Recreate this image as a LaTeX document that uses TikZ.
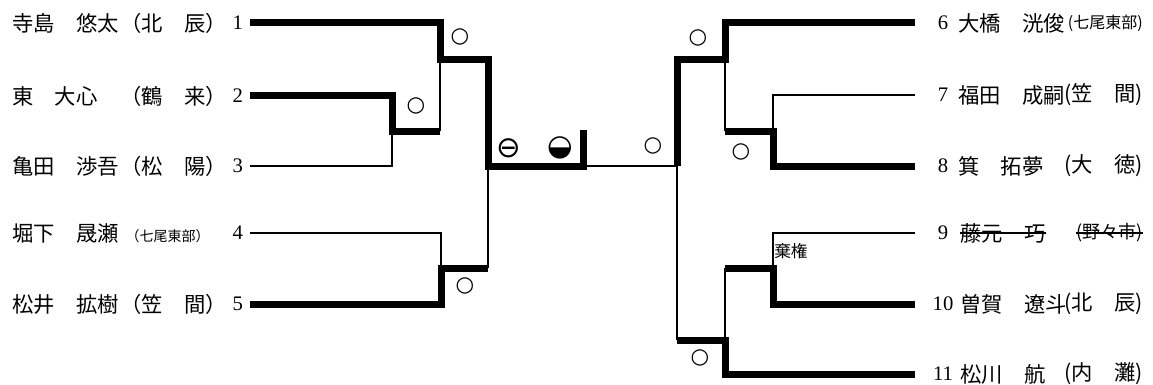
\documentclass[tikz,border=0pt]{standalone}
\usepackage{fontspec}
\usepackage{tikz}
\usetikzlibrary{positioning}
\newfontfamily\jp{Noto Sans CJK JP}
\newfontfamily\marksfont{DejaVu Sans}
\newfontfamily\digitfont{Liberation Serif}
\newcommand{\player}[2]{\makebox[81pt][l]{#1}#2}

\begin{document}
\begin{tikzpicture}[
  x=0.75pt,y=-0.75pt,
  font=\fontsize{16}{19}\jp,
  num/.style ={font=\fontsize{15.5}{18}\digitfont,inner xsep=5pt,inner ysep=0pt,anchor=east},
  rnum/.style={font=\fontsize{15.5}{18}\digitfont,inner sep=0pt,minimum width=42pt},
  pname/.style={inner sep=0pt,anchor=west},
  school/.style={inner sep=0pt,anchor=east},
  lost/.style={line width=2pt},
  won/.style ={line width=5.25pt},
  res/.style ={font=\fontsize{16}{18}\marksfont,inner sep=0pt},
  draw res/.style={font=\fontsize{22}{24}\marksfont,inner sep=0pt},
]
\useasboundingbox (0,0) rectangle (1153,385);
% ---- Left block ----
\node[num] (n1) at (250,23)  {1};
\node[num] (n2) at (250,96)  {2};
\node[num] (n3) at (250,166) {3};
\node[num] (n4) at (250,233) {4};
\node[num] (n5) at (250,304) {5};
\node[pname] (nm1) at (12,23)  {\player{寺島　悠太}{（北　辰）}};
\node[pname] (nm2) at (12,96)  {\player{東　大心}{（鶴　来）}};
\node[pname] (nm3) at (12,166) {\player{亀田　渉吾}{（松　陽）}};
\node[pname] (nm4) at (12,233) {\player{堀下　晟瀬}{\hspace{4pt}{\fontsize{10.5}{12}\selectfont（七尾東部）}}};
\node[pname] (nm5) at (12,304) {\player{松井　拡樹}{（笠　間）}};
% ---- Right block ----
\node[rnum] (n6)  at (943,23)  {6};
\node[rnum] (n7)  at (943,95)  {7};
\node[rnum] (n8)  at (943,166) {8};
\node[rnum] (n9)  at (943,233) {9};
\node[rnum] (n10) at (943,304) {10};
\node[rnum] (n11) at (943,374) {11};
\node[pname] (nm6)  at (958,23)  {大橋　洸俊};
\node[pname] (nm7)  at (958,95)  {福田　成嗣};
\node[pname] (nm8)  at (958,166) {箕　拓夢};
\node[pname] (nm9)  at (960,233) {藤元　巧};
\node[pname] (nm10) at (960,304) {曽賀　遼斗};
\node[pname] (nm11) at (960,374) {松川　航};
\node[school,font=\fontsize{12}{14}\jp]   (s6)  at (1143,23)  {(七尾東部)};
\node[school] (s7)  at (1143,95)  {(笠　間)};
\node[school] (s8)  at (1143,166) {(大　徳)};
\node[school,font=\fontsize{13.5}{16}\jp] (s9)  at (1143,233) {(野々市)};
\node[school] (s10) at (1143,304) {(北　辰)};
\node[school] (s11) at (1143,374) {(内　灘)};
\draw[line width=0.8pt] (nm9.west) -- (nm9.east);
\draw[line width=0.8pt] (s9.west) -- (s9.east);
% ---- Joints ----
\coordinate (q23) at (392,131);
\coordinate (q1)  at (440,60);
\coordinate (q45) at (441,268);
\coordinate (sl)  at (488,166);
\coordinate (fl)  at (583,166);
\coordinate (fw)  at (583,130);
\coordinate (fr)  at (677,166);
\coordinate (r1)  at (725,60);
\coordinate (r78) at (773,131);
\coordinate (r910) at (773,268);
\coordinate (r2)  at (725,340);
% ---- Left lines ----
\draw[won]  (n1.east) -| (q1) -| (sl) -- (fl) -- (fw);
\draw[won]  (n2.east) -| (q23) -- (q1|-q23);
\draw[lost] (q1|-q23) -- (q1);
\draw[lost] (n3.east) -| (q23);
\draw[lost] (n4.east) -| (q45);
\draw[won]  (n5.east) -| (q45) -- (sl|-q45);
\draw[lost] (sl|-q45) -- (sl);
\draw[lost] (fl) -- (fr);
% ---- Right lines ----
\draw[won]  (n6.west) -| (r1) -| (fr);
\draw[won]  (n8.west) -| (r78) -- (r1|-r78);
\draw[lost] (r1|-r78) -- (r1);
\draw[lost] (n7.west) -| (r78);
\draw[won]  (n10.west) -| (r910) -- (r2|-r910);
\draw[lost] (r2|-r910) -- (r2);
\draw[lost] (n9.west) -| (r910);
\draw[won]  (n11.west) -| (r2) -- (fr|-r2);
\draw[lost] (fr|-r2) -- (fr);
% ---- Results ----
\node[res] (m23) at (416,106) {○};
\node[res] (m1)  at (460,37)  {○};
\node[res] (m45) at (465,286) {○};
\node[draw res] (fa) at (509,148) {⊖};
\node[draw res] (fb) at (560,148) {◒};
\node[res] (mfr) at (653,146) {○};
\node[res] (m6)  at (698,38)  {○};
\node[res] (m78) at (741,152) {○};
\node[res] (m11) at (700,358) {○};
\node[pname,font=\fontsize{12.5}{15}\jp] (kiken) at (774,251) {棄権};
\end{tikzpicture}
\end{document}
